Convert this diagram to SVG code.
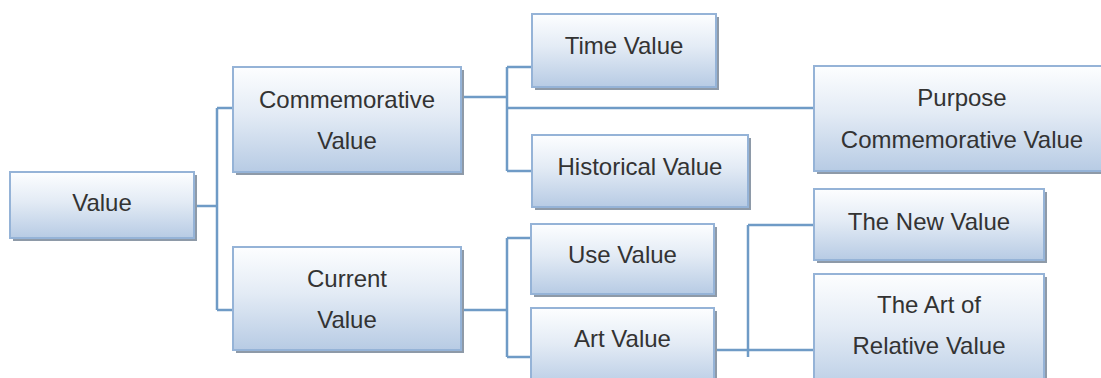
<svg xmlns="http://www.w3.org/2000/svg" width="1101" height="378" viewBox="0 0 1101 378">
<defs>
<linearGradient id="g" x1="0" y1="0" x2="0" y2="1">
<stop offset="0" stop-color="#fdfeff"/>
<stop offset="0.45" stop-color="#e3ebf5"/>
<stop offset="1" stop-color="#b7cbe4"/>
</linearGradient>
<style>
.sh{fill:#8e9aa8}
.bx{fill:url(#g);stroke:#95b3d7;stroke-width:2}
.t{font-family:"Liberation Sans",Arial,sans-serif;font-size:24px;fill:#333;text-anchor:middle}
.c{fill:none;stroke:#6f9bc6;stroke-width:2.5}
</style>
</defs>
<rect width="1101" height="378" fill="#fff"/>
<g id="connectors">
<path class="c" d="M194 206H217M217 108V310M217 108H233M217 310H233"/>
<path class="c" d="M461 97H507M507 67V171M507 67H532M507 108H814M507 171H532"/>
<path class="c" d="M461 310H507M507 238V357M507 238H531M507 357H531"/>
<path class="c" d="M714 350H814M748 225V357M748 225H814"/>
</g>
<g id="value"><rect class="sh" x="13" y="175" width="184" height="66"/><rect class="bx" x="10" y="172" width="184" height="66"/><text class="t" x="102" y="211">Value</text></g>
<g id="commemorative"><rect class="sh" x="236" y="70" width="228" height="105"/><rect class="bx" x="233" y="67" width="228" height="105"/><text class="t" x="347" y="108">Commemorative</text><text class="t" x="347" y="149">Value</text></g>
<g id="current"><rect class="sh" x="236" y="250" width="228" height="103"/><rect class="bx" x="233" y="247" width="228" height="103"/><text class="t" x="347" y="287">Current</text><text class="t" x="347" y="328">Value</text></g>
<g id="time"><rect class="sh" x="535" y="17" width="184" height="73"/><rect class="bx" x="532" y="14" width="184" height="73"/><text class="t" x="624" y="54">Time Value</text></g>
<g id="historical"><rect class="sh" x="535" y="138" width="216" height="72"/><rect class="bx" x="532" y="135" width="216" height="72"/><text class="t" x="640" y="175">Historical Value</text></g>
<g id="purpose"><rect class="sh" x="817" y="69" width="300" height="105"/><rect class="bx" x="814" y="66" width="300" height="105"/><text class="t" x="962" y="106">Purpose</text><text class="t" x="962" y="148">Commemorative Value</text></g>
<g id="use"><rect class="sh" x="534" y="227" width="183" height="70"/><rect class="bx" x="531" y="224" width="183" height="70"/><text class="t" x="622.5" y="263">Use Value</text></g>
<g id="art"><rect class="sh" x="534" y="311" width="183" height="80"/><rect class="bx" x="531" y="308" width="183" height="80"/><text class="t" x="622.5" y="347">Art Value</text></g>
<g id="new"><rect class="sh" x="817" y="192" width="230" height="71"/><rect class="bx" x="814" y="189" width="230" height="71"/><text class="t" x="929" y="230">The New Value</text></g>
<g id="relative"><rect class="sh" x="817" y="277" width="230" height="120"/><rect class="bx" x="814" y="274" width="230" height="120"/><text class="t" x="929" y="313">The Art of</text><text class="t" x="929" y="354">Relative Value</text></g>
</svg>
